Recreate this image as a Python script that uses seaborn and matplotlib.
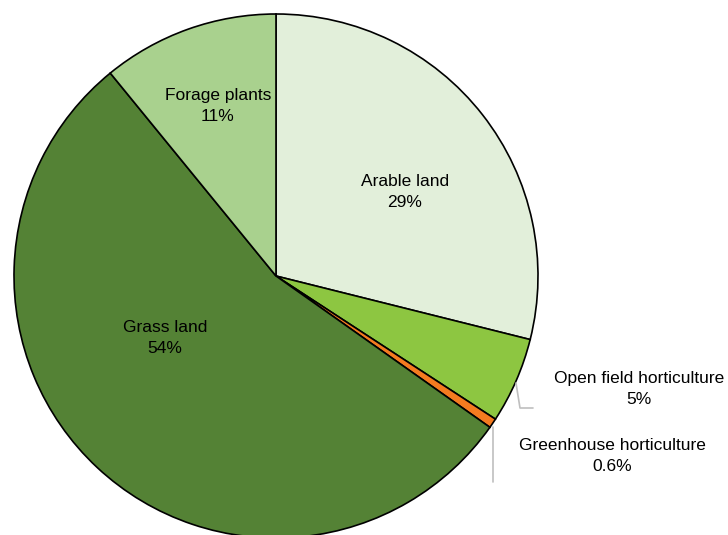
import matplotlib
matplotlib.use("Agg")
import matplotlib.pyplot as plt
import seaborn as sns

categories = ["Arable land", "Open field horticulture", "Greenhouse horticulture",
              "Grass land", "Forage plants"]
shares = [28.9, 5.3, 0.6, 54.3, 10.9]
pct_labels = ["29%", "5%", "0.6%", "54%", "11%"]
colors = ["#E2EFDA", "#8DC641", "#F47B20", "#548235", "#A9D18E"]

sns.set_theme(style="white")
plt.rcParams["font.family"] = ["Liberation Sans", "DejaVu Sans"]

W, H = 728, 535
fig = plt.figure(figsize=(W / 100, H / 100), dpi=100)
ax = fig.add_axes([0, 0, 1, 1])


def py(y):
    # pixel row (from top) -> data y
    return H - y


ax.pie(
    shares,
    colors=colors,
    startangle=90,
    counterclock=False,
    center=(276, py(276)),
    radius=262,
    wedgeprops={"edgecolor": "black", "linewidth": 1.2},
    frame=True,
)
ax.set_xlim(0, W)
ax.set_ylim(0, H)
ax.set_aspect("equal")
ax.axis("off")

fs = 12.5
label_pos = {
    "Arable land": (405, 192),
    "Open field horticulture": (639, 389),
    "Greenhouse horticulture": (612, 456),
    "Grass land": (165, 338),
    "Forage plants": (218, 106),
}
for name, pct in zip(categories, pct_labels):
    x, y = label_pos[name]
    ax.text(x, py(y), f"{name}\n{pct}", ha="center", va="center",
            fontsize=fs, color="black", linespacing=1.5)

# leader lines
ax.plot([516, 520, 533], [py(383), py(408), py(408)], color="#BFBFBF", lw=1.2)
ax.plot([493, 493], [py(427), py(482)], color="#BFBFBF", lw=1.2)

fig.savefig("out.png", dpi=100)
